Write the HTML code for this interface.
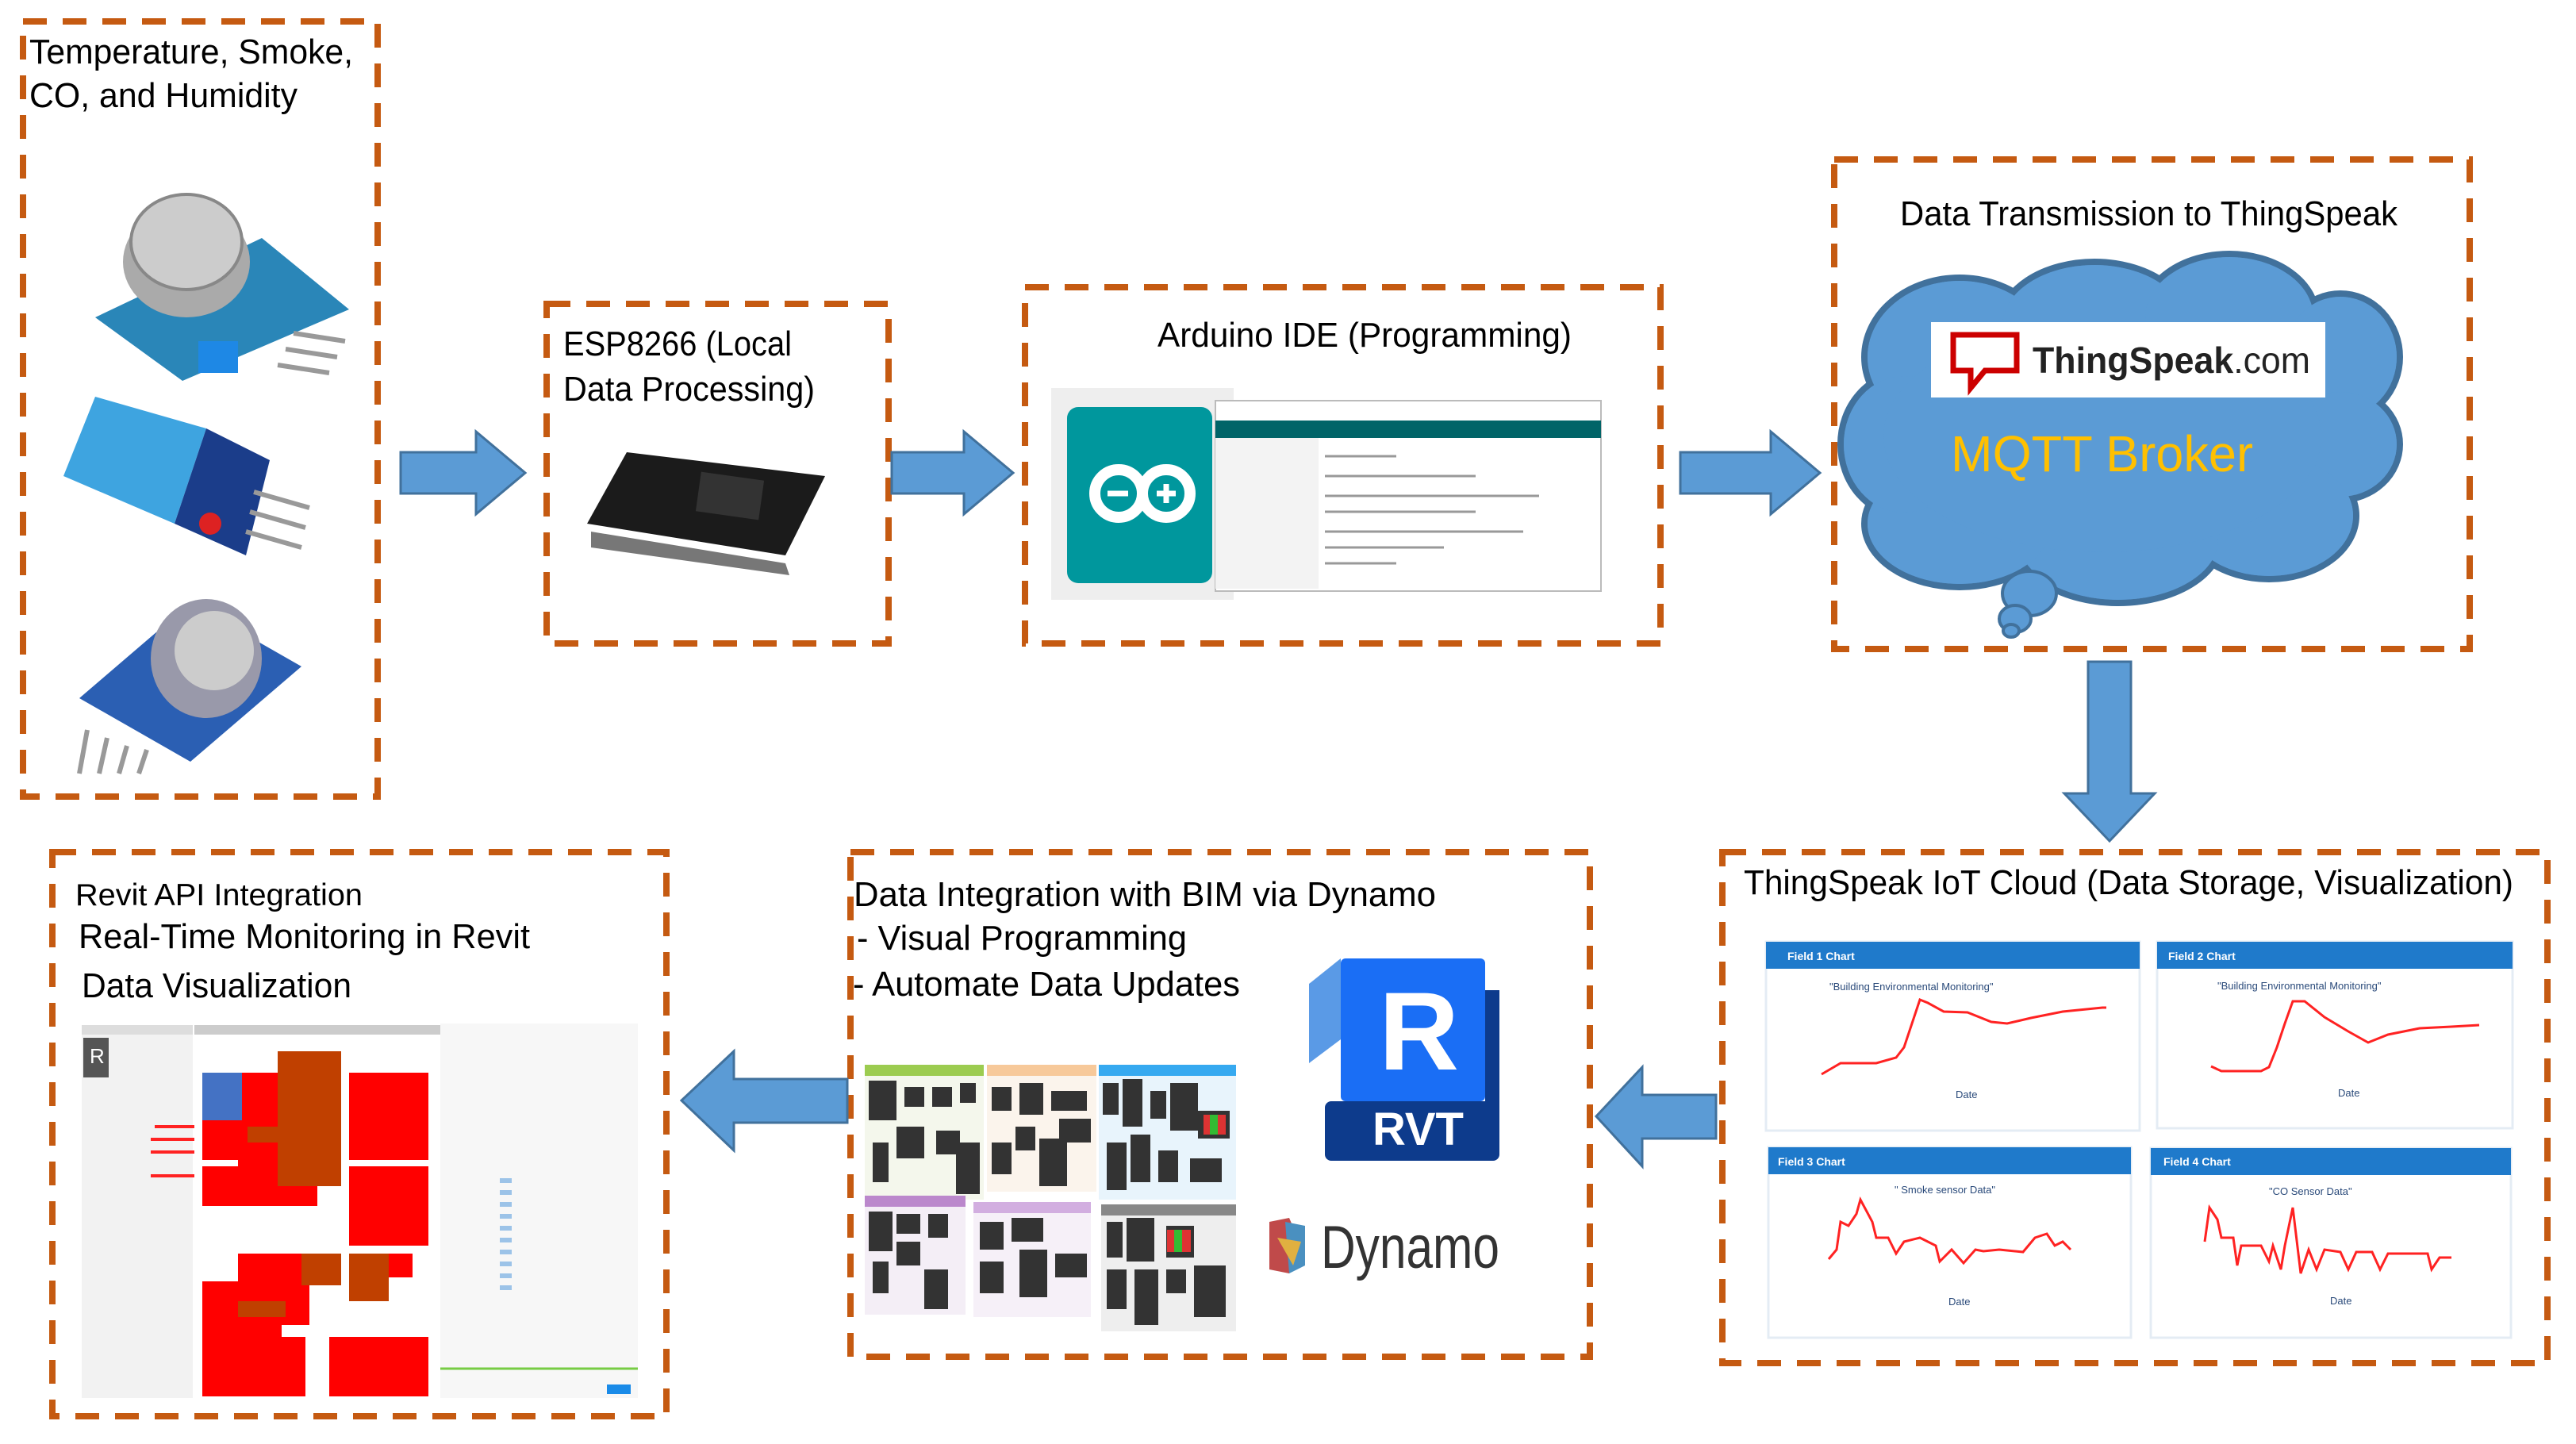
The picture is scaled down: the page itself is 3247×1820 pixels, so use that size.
<!DOCTYPE html>
<html><head><meta charset="utf-8"><style>
html,body{margin:0;padding:0;background:#fff;}
svg{display:block;}
text{font-family:"Liberation Sans",sans-serif;}
</style></head><body>
<svg width="3247" height="1820" viewBox="0 0 3247 1820" xmlns="http://www.w3.org/2000/svg">
<rect width="3247" height="1820" fill="#fff"/>
<g fill="none" stroke="#C55A11" stroke-width="8" stroke-dasharray="30 20">
<rect x="29" y="27" width="447" height="977"/>
<rect x="689" y="383" width="431" height="428"/>
<rect x="1292" y="362" width="801" height="449"/>
<rect x="2312" y="201" width="801" height="617"/>
<rect x="2171" y="1074" width="1040" height="644"/>
<rect x="1072" y="1074" width="932" height="636"/>
<rect x="66" y="1074" width="774" height="711"/>
</g>
<!-- arrows -->
<g fill="#5B9BD5" stroke="#41719C" stroke-width="3">
<polygon points="505,570 600,570 600,544 662,596 600,648 600,622 505,622"/>
<polygon points="1124,570 1215,570 1215,544 1277,596 1215,648 1215,622 1124,622"/>
<polygon points="2118,570 2232,570 2232,544 2294,596 2232,648 2232,622 2118,622"/>
<polygon points="2632,834 2686,834 2686,1000 2716,1000 2659,1060 2602,1000 2632,1000"/>
<polygon points="2163,1380 2070,1380 2070,1345 2012,1407 2070,1470 2070,1435 2163,1435"/>
<polygon points="1068,1360 925,1360 925,1325 859,1387 925,1450 925,1415 1068,1415"/>
</g>
<!-- text -->
<g fill="#000" font-size="44">
<text x="37" y="80" textLength="408" lengthAdjust="spacingAndGlyphs">Temperature, Smoke,</text>
<text x="37" y="135" textLength="338" lengthAdjust="spacingAndGlyphs">CO, and Humidity</text>
<text x="710" y="448" textLength="288" lengthAdjust="spacingAndGlyphs">ESP8266 (Local</text>
<text x="710" y="505" textLength="317" lengthAdjust="spacingAndGlyphs">Data Processing)</text>
<text x="1459" y="437" textLength="522" lengthAdjust="spacingAndGlyphs">Arduino IDE (Programming)</text>
<text x="2395" y="284" textLength="627" lengthAdjust="spacingAndGlyphs">Data Transmission to ThingSpeak</text>
<text x="2198" y="1127" textLength="970" lengthAdjust="spacingAndGlyphs">ThingSpeak IoT Cloud (Data Storage, Visualization)</text>
<text x="1076" y="1142" textLength="734" lengthAdjust="spacingAndGlyphs">Data Integration with BIM via Dynamo</text>
<text x="1080" y="1197" textLength="416" lengthAdjust="spacingAndGlyphs">- Visual Programming</text>
<text x="1075" y="1255" textLength="488" lengthAdjust="spacingAndGlyphs">- Automate Data Updates</text>
<text x="95" y="1141" font-size="39" textLength="362" lengthAdjust="spacingAndGlyphs">Revit API Integration</text>
<text x="99" y="1195" textLength="569" lengthAdjust="spacingAndGlyphs">Real-Time Monitoring in Revit</text>
<text x="103" y="1257" textLength="340" lengthAdjust="spacingAndGlyphs">Data Visualization</text>
</g>
<!-- cloud -->
<g>
<g fill="#5B9BD5" stroke="#41719C" stroke-width="8">
<ellipse cx="2470" cy="450" rx="120" ry="100"/>
<ellipse cx="2640" cy="410" rx="120" ry="80"/>
<ellipse cx="2810" cy="400" rx="110" ry="80"/>
<ellipse cx="2950" cy="450" rx="75" ry="80"/>
<ellipse cx="2950" cy="560" rx="75" ry="70"/>
<ellipse cx="2860" cy="650" rx="110" ry="80"/>
<ellipse cx="2670" cy="680" rx="130" ry="80"/>
<ellipse cx="2470" cy="660" rx="120" ry="80"/>
<ellipse cx="2400" cy="560" rx="80" ry="90"/>
<ellipse cx="2650" cy="550" rx="280" ry="150"/>
</g>
<g fill="#5B9BD5">
<ellipse cx="2470" cy="450" rx="116" ry="96"/>
<ellipse cx="2640" cy="410" rx="116" ry="76"/>
<ellipse cx="2810" cy="400" rx="106" ry="76"/>
<ellipse cx="2950" cy="450" rx="71" ry="76"/>
<ellipse cx="2950" cy="560" rx="71" ry="66"/>
<ellipse cx="2860" cy="650" rx="106" ry="76"/>
<ellipse cx="2670" cy="680" rx="126" ry="76"/>
<ellipse cx="2470" cy="660" rx="116" ry="76"/>
<ellipse cx="2400" cy="560" rx="76" ry="86"/>
<ellipse cx="2650" cy="550" rx="276" ry="146"/>
</g>
<g fill="#5B9BD5" stroke="#41719C" stroke-width="4">
<ellipse cx="2558" cy="748" rx="34" ry="28"/>
<ellipse cx="2540" cy="780" rx="20" ry="17"/>
<ellipse cx="2535" cy="795" rx="10" ry="8"/>
</g>
<rect x="2434" y="406" width="497" height="95" fill="#fff"/>
<path d="M2462 422 h80 v45 h-40 l-18 22 v-22 h-22 z" fill="#fff" stroke="#C00" stroke-width="7"/>
<text x="2562" y="470" font-size="46" font-weight="bold" fill="#222" textLength="350" lengthAdjust="spacingAndGlyphs">ThingSpeak<tspan font-weight="normal">.com</tspan></text>
<text x="2459" y="594" font-size="64" fill="#FFC000" textLength="381" lengthAdjust="spacingAndGlyphs">MQTT Broker</text>
</g>
<!-- sensors -->
<g>
<polygon points="120,400 330,300 440,390 230,480" fill="#2a86b8"/>
<ellipse cx="235" cy="330" rx="80" ry="70" fill="#aaa"/>
<ellipse cx="235" cy="305" rx="70" ry="60" fill="#ccc" stroke="#888" stroke-width="4"/>
<rect x="250" y="430" width="50" height="40" fill="#1e88e5"/>
<g stroke="#999" stroke-width="6"><line x1="370" y1="420" x2="435" y2="430"/><line x1="360" y1="440" x2="425" y2="450"/><line x1="350" y1="460" x2="415" y2="470"/></g>
<polygon points="80,600 120,500 260,540 220,660" fill="#3ea4e0"/>
<polygon points="220,660 260,540 340,580 310,700" fill="#1b3d8a"/>
<circle cx="265" cy="660" r="14" fill="#d22"/>
<g stroke="#999" stroke-width="6"><line x1="320" y1="620" x2="390" y2="640"/><line x1="315" y1="645" x2="385" y2="665"/><line x1="310" y1="670" x2="380" y2="690"/></g>
<polygon points="100,880 240,760 380,840 240,960" fill="#2b5fb3"/>
<ellipse cx="260" cy="830" rx="70" ry="75" fill="#99a"/>
<ellipse cx="270" cy="820" rx="50" ry="50" fill="#ccc"/>
<g stroke="#999" stroke-width="6"><line x1="110" y1="920" x2="100" y2="975"/><line x1="135" y1="930" x2="125" y2="975"/><line x1="160" y1="940" x2="150" y2="975"/><line x1="185" y1="945" x2="175" y2="975"/></g>
</g>
<!-- ESP -->
<g>
<polygon points="740,660 790,570 1040,600 990,700" fill="#1b1b1b"/>
<rect x="880" y="600" width="80" height="50" fill="#333" transform="rotate(8 920 625)"/>
<polygon points="745,670 990,710 995,725 745,690" fill="#777"/>
</g>
<!-- Arduino -->
<g>
<rect x="1325" y="489" width="230" height="267" fill="#eee"/>
<rect x="1345" y="513" width="183" height="222" rx="14" fill="#00979D"/>
<g fill="none" stroke="#fff" stroke-width="14"><circle cx="1410" cy="622" r="30"/><circle cx="1470" cy="622" r="30"/></g>
<g stroke="#fff" stroke-width="7"><line x1="1396" y1="622" x2="1422" y2="622"/><line x1="1458" y1="622" x2="1482" y2="622"/><line x1="1470" y1="610" x2="1470" y2="634"/></g>
<rect x="1532" y="505" width="486" height="240" fill="#fff" stroke="#bbb" stroke-width="2"/>
<rect x="1532" y="530" width="486" height="22" fill="#006468"/>
<rect x="1532" y="552" width="130" height="190" fill="#f3f3f3"/>
<g stroke="#999" stroke-width="3">
<line x1="1670" y1="575" x2="1760" y2="575"/><line x1="1670" y1="600" x2="1860" y2="600"/><line x1="1670" y1="625" x2="1940" y2="625"/><line x1="1670" y1="645" x2="1860" y2="645"/><line x1="1670" y1="670" x2="1920" y2="670"/><line x1="1670" y1="690" x2="1820" y2="690"/><line x1="1670" y1="710" x2="1760" y2="710"/>
</g>
</g>
<!-- ThingSpeak charts -->
<g font-size="14" font-weight="bold" fill="#fff">
<rect x="2226" y="1187" width="471" height="238" fill="#fff" stroke="#e4ecf4" stroke-width="3"/>
<rect x="2226" y="1187" width="471" height="34" fill="#1F7ACB"/><text x="2253" y="1210">Field 1 Chart</text>
<rect x="2719" y="1187" width="448" height="235" fill="#fff" stroke="#e4ecf4" stroke-width="3"/>
<rect x="2719" y="1187" width="448" height="34" fill="#1F7ACB"/><text x="2733" y="1210">Field 2 Chart</text>
<rect x="2229" y="1446" width="457" height="240" fill="#fff" stroke="#e4ecf4" stroke-width="3"/>
<rect x="2229" y="1446" width="457" height="34" fill="#1F7ACB"/><text x="2241" y="1469">Field 3 Chart</text>
<rect x="2711" y="1447" width="454" height="239" fill="#fff" stroke="#e4ecf4" stroke-width="3"/>
<rect x="2711" y="1447" width="454" height="34" fill="#1F7ACB"/><text x="2727" y="1469">Field 4 Chart</text>
</g>
<g font-size="13" fill="#2a4a7a">
<text x="2306" y="1248">"Building Environmental Monitoring"</text>
<text x="2795" y="1247">"Building Environmental Monitoring"</text>
<text x="2388" y="1504">" Smoke sensor Data"</text>
<text x="2860" y="1506">"CO Sensor Data"</text>
<text x="2465" y="1384">Date</text><text x="2947" y="1382">Date</text><text x="2456" y="1645">Date</text><text x="2937" y="1644">Date</text>
</g>
<g fill="none" stroke="#f22" stroke-width="3">
<polyline points="2296,1354 2320,1340 2365,1340 2390,1333 2400,1320 2410,1290 2420,1260 2430,1264 2450,1275 2480,1276 2510,1288 2530,1290 2560,1283 2600,1275 2650,1270 2655,1270"/>
<polyline points="2787,1344 2800,1350 2850,1350 2860,1345 2870,1320 2880,1290 2890,1262 2905,1262 2930,1282 2960,1300 2985,1314 3010,1304 3050,1296 3090,1294 3125,1292"/>
<polyline points="2305,1587 2315,1575 2320,1540 2330,1545 2340,1530 2345,1512 2360,1540 2365,1560 2380,1560 2390,1580 2400,1565 2420,1560 2440,1570 2445,1590 2460,1575 2475,1592 2490,1575 2500,1577 2520,1575 2550,1578 2565,1560 2580,1555 2590,1570 2600,1565 2610,1575"/>
<polyline points="2779,1565 2785,1522 2795,1537 2800,1560 2815,1560 2820,1595 2825,1570 2850,1570 2860,1590 2865,1570 2875,1600 2880,1570 2890,1522 2900,1605 2910,1575 2920,1600 2930,1575 2950,1578 2960,1600 2970,1578 2990,1578 3000,1600 3010,1580 3060,1580 3065,1600 3075,1585 3090,1585"/>
</g>
<!-- Dynamo graph -->
<g>
<rect x="1090" y="1342" width="150" height="170" fill="#f4f7ec"/><rect x="1090" y="1342" width="150" height="14" fill="#9ccc50"/>
<rect x="1244" y="1342" width="138" height="160" fill="#fbf4ec"/><rect x="1244" y="1342" width="138" height="14" fill="#f7c99a"/>
<rect x="1385" y="1342" width="173" height="170" fill="#e8f4fc"/><rect x="1385" y="1342" width="173" height="14" fill="#36a9f0"/>
<rect x="1090" y="1507" width="127" height="150" fill="#f4eef6"/><rect x="1090" y="1507" width="127" height="14" fill="#bb88cc"/>
<rect x="1227" y="1515" width="148" height="145" fill="#f6f0f8"/><rect x="1227" y="1515" width="148" height="14" fill="#d2aee0"/>
<rect x="1388" y="1518" width="170" height="160" fill="#eee"/><rect x="1388" y="1518" width="170" height="14" fill="#888"/>
<g fill="#333">
<rect x="1095" y="1362" width="35" height="50"/><rect x="1140" y="1370" width="25" height="25"/><rect x="1175" y="1370" width="25" height="25"/><rect x="1210" y="1365" width="20" height="25"/><rect x="1130" y="1420" width="35" height="40"/><rect x="1180" y="1425" width="30" height="30"/><rect x="1205" y="1440" width="30" height="65"/><rect x="1100" y="1440" width="20" height="50"/>
<rect x="1250" y="1370" width="25" height="30"/><rect x="1285" y="1365" width="30" height="40"/><rect x="1325" y="1375" width="45" height="25"/><rect x="1280" y="1420" width="25" height="30"/><rect x="1310" y="1435" width="35" height="60"/><rect x="1250" y="1440" width="25" height="40"/><rect x="1335" y="1410" width="40" height="30"/>
<rect x="1390" y="1365" width="20" height="40"/><rect x="1415" y="1360" width="25" height="60"/><rect x="1450" y="1375" width="20" height="35"/><rect x="1475" y="1365" width="35" height="60"/><rect x="1510" y="1400" width="40" height="35"/><rect x="1395" y="1440" width="25" height="60"/><rect x="1425" y="1430" width="25" height="60"/><rect x="1460" y="1450" width="25" height="40"/><rect x="1500" y="1460" width="40" height="30"/>
<rect x="1095" y="1527" width="30" height="50"/><rect x="1130" y="1530" width="30" height="25"/><rect x="1170" y="1530" width="25" height="30"/><rect x="1130" y="1565" width="30" height="30"/><rect x="1165" y="1600" width="30" height="50"/><rect x="1100" y="1590" width="20" height="40"/>
<rect x="1235" y="1540" width="30" height="35"/><rect x="1275" y="1535" width="40" height="30"/><rect x="1285" y="1575" width="35" height="60"/><rect x="1235" y="1590" width="30" height="40"/><rect x="1330" y="1580" width="40" height="30"/>
<rect x="1395" y="1540" width="20" height="45"/><rect x="1420" y="1535" width="35" height="55"/><rect x="1470" y="1545" width="35" height="40"/><rect x="1395" y="1600" width="25" height="50"/><rect x="1430" y="1600" width="30" height="70"/><rect x="1470" y="1600" width="25" height="30"/><rect x="1505" y="1595" width="40" height="65"/>
</g>
<rect x="1517" y="1405" width="28" height="25" fill="#d33"/><rect x="1525" y="1405" width="10" height="25" fill="#3b3"/>
<rect x="1471" y="1550" width="30" height="28" fill="#d33"/><rect x="1480" y="1550" width="10" height="28" fill="#3b3"/>
</g>
<!-- RVT logo -->
<g>
<polygon points="1650,1340 1650,1240 1690,1208 1690,1310" fill="#5a9ae6"/>
<rect x="1690" y="1208" width="182" height="180" fill="#1a6ef5" rx="6"/>
<rect x="1670" y="1388" width="220" height="75" fill="#0d3b8c" rx="8"/>
<rect x="1872" y="1248" width="18" height="150" fill="#0d3b8c"/>
<text x="1738" y="1348" font-size="140" font-weight="bold" fill="#fff">R</text>
<text x="1730" y="1443" font-size="58" font-weight="bold" fill="#fff">RVT</text>
</g>
<g>
<polygon points="1600,1540 1625,1535 1640,1570 1625,1605 1600,1600" fill="#c04a4a"/>
<polygon points="1620,1540 1645,1545 1645,1595 1625,1605" fill="#4a90c0"/>
<polygon points="1610,1560 1640,1565 1630,1595" fill="#e0b040"/>
<text x="1665" y="1598" font-size="76" fill="#333" textLength="225" lengthAdjust="spacingAndGlyphs">Dynamo</text>
</g>
<!-- Revit screenshot -->
<g>
<rect x="103" y="1292" width="140" height="470" fill="#f2f2f2"/>
<rect x="103" y="1292" width="140" height="12" fill="#ddd"/>
<rect x="105" y="1308" width="32" height="50" fill="#555"/>
<text x="113" y="1340" font-size="26" fill="#fff">R</text>
<g stroke="#f22" stroke-width="4"><line x1="195" y1="1420" x2="245" y2="1420"/><line x1="190" y1="1436" x2="245" y2="1436"/><line x1="190" y1="1452" x2="245" y2="1452"/><line x1="190" y1="1482" x2="245" y2="1482"/></g>
<rect x="245" y="1292" width="310" height="12" fill="#ccc"/>
<g fill="#f00">
<rect x="255" y="1352" width="100" height="110"/><rect x="440" y="1352" width="100" height="110"/>
<rect x="255" y="1470" width="90" height="50"/><rect x="440" y="1470" width="100" height="100"/>
<rect x="300" y="1580" width="60" height="0"/>
<rect x="300" y="1580" width="90" height="90"/><rect x="440" y="1580" width="80" height="30"/>
<rect x="255" y="1615" width="100" height="70"/>
<rect x="255" y="1685" width="130" height="75"/><rect x="415" y="1685" width="125" height="75"/>
<rect x="300" y="1440" width="100" height="80"/>
</g>
<rect x="255" y="1352" width="50" height="60" fill="#4472c4"/>
<g fill="#c04000">
<rect x="350" y="1325" width="80" height="170"/><rect x="312" y="1420" width="40" height="20"/><rect x="440" y="1580" width="50" height="60"/><rect x="380" y="1580" width="50" height="40"/><rect x="300" y="1640" width="60" height="20"/>
</g>
<rect x="555" y="1290" width="249" height="472" fill="#f7f7f7"/>
<g fill="#9cc3e8"><rect x="630" y="1485" width="15" height="6"/><rect x="630" y="1500" width="15" height="6"/><rect x="630" y="1515" width="15" height="6"/><rect x="630" y="1530" width="15" height="6"/><rect x="630" y="1545" width="15" height="6"/><rect x="630" y="1560" width="15" height="6"/><rect x="630" y="1575" width="15" height="6"/><rect x="630" y="1590" width="15" height="6"/><rect x="630" y="1605" width="15" height="6"/><rect x="630" y="1620" width="15" height="6"/></g>
<line x1="555" y1="1725" x2="804" y2="1725" stroke="#7c4" stroke-width="3"/>
<rect x="765" y="1745" width="30" height="12" fill="#1a8be8"/>
</g>
</svg>
</body></html>
